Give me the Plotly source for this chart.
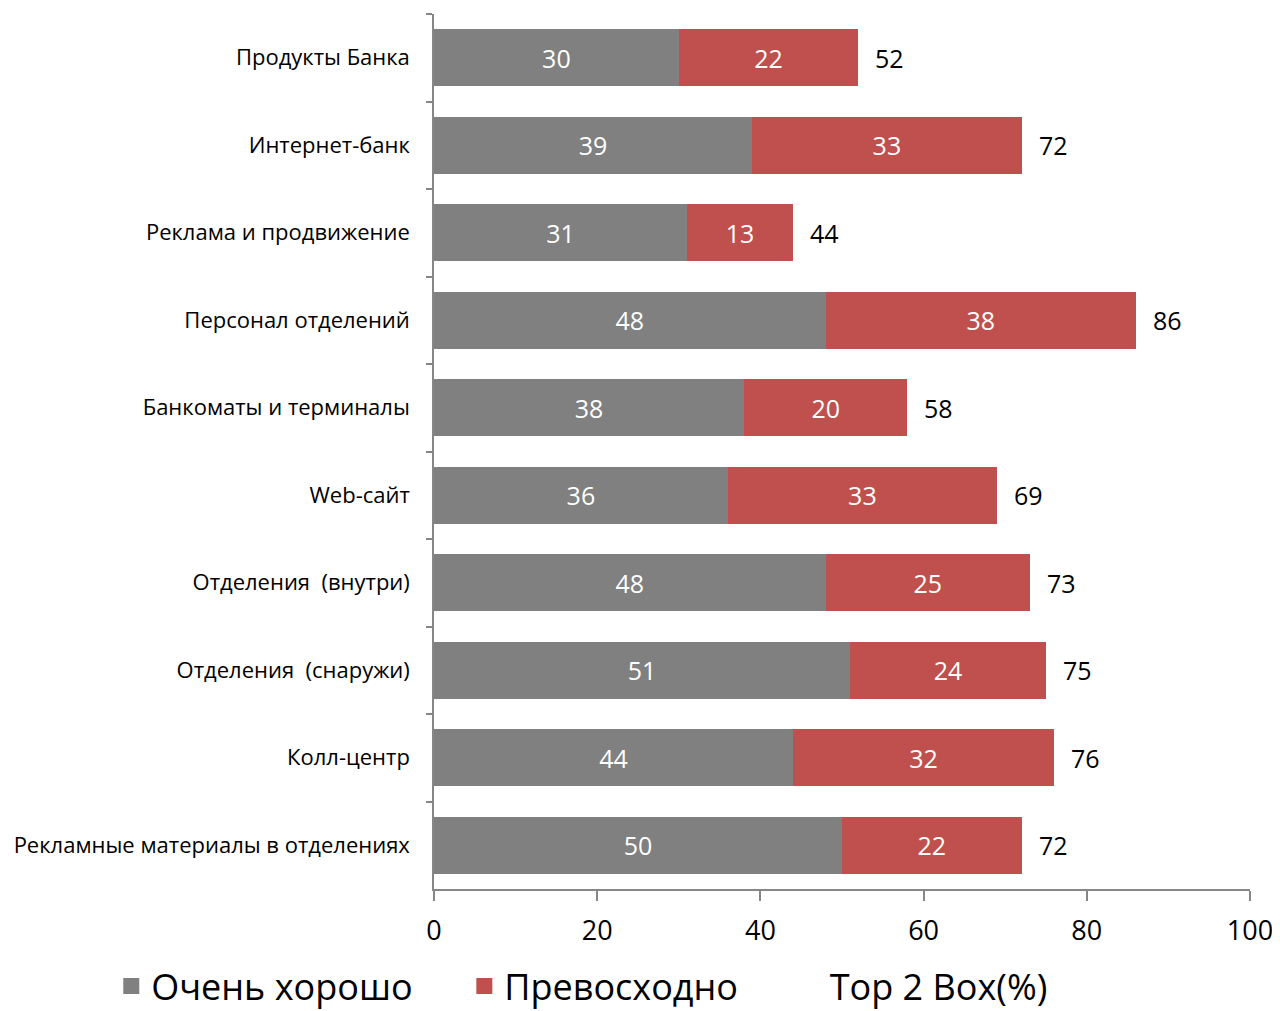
import plotly.graph_objects as go

categories = [
    "Продукты Банка",
    "Интернет-банк",
    "Реклама и продвижение",
    "Персонал отделений",
    "Банкоматы и терминалы",
    "Web-сайт",
    "Отделения  (внутри)",
    "Отделения  (снаружи)",
    "Колл-центр",
    "Рекламные материалы в отделениях",
]
very_good = [30, 39, 31, 48, 38, 36, 48, 51, 44, 50]
excellent = [22, 33, 13, 38, 20, 33, 25, 24, 32, 22]
top2box = [52, 72, 44, 86, 58, 69, 73, 75, 76, 72]
x_ticks = [0, 20, 40, 60, 80, 100]
series_names = ["Очень хорошо", "Превосходно", "Top 2 Box(%)"]

FONT = "Open Sans"
GRAY = "#808080"
RED = "#C0504D"
AXIS = "#868686"
PAD = "\u00a0" * 5

fig = go.Figure()
fig.add_trace(go.Bar(
    y=categories, x=very_good, orientation="h", name=series_names[0],
    showlegend=False,
    marker=dict(color=GRAY, line=dict(width=0)),
    text=[str(v) for v in very_good], textposition="inside",
    insidetextanchor="middle",
    textfont=dict(color="white", size=25, family=FONT),
))
fig.add_trace(go.Bar(
    y=categories, x=excellent, orientation="h", name=series_names[1],
    showlegend=False,
    marker=dict(color=RED, line=dict(width=0)),
    text=[str(v) for v in excellent], textposition="inside",
    insidetextanchor="middle",
    textfont=dict(color="white", size=25, family=FONT),
))
# legend entries
for name, col in zip(series_names, [GRAY, RED, "rgba(0,0,0,0)"]):
    fig.add_trace(go.Scatter(
        x=[None], y=[None], mode="markers", name=name + PAD,
        marker=dict(symbol="square", size=16, color=col, line=dict(width=0)),
        showlegend=True,
    ))

for cat, tot in zip(categories, top2box):
    fig.add_annotation(
        x=tot, y=cat, xref="x", yref="y", text=str(tot),
        showarrow=False, xanchor="left", xshift=15,
        font=dict(size=25, color="black", family=FONT),
    )

fig.update_layout(
    width=1272, height=1003,
    margin=dict(l=426, r=30, t=6, b=122, autoexpand=False),
    barmode="stack", bargap=0.35,
    plot_bgcolor="white", paper_bgcolor="white",
    font=dict(family=FONT, color="black"),
    showlegend=True,
    legend=dict(
        orientation="h", x=-0.3955, xanchor="left", y=-0.111, yanchor="middle",
        font=dict(size=36, family=FONT, color="black"),
        itemwidth=30, traceorder="normal", itemsizing="trace",
        bgcolor="rgba(0,0,0,0)",
    ),
    xaxis=dict(
        range=[0, 100], tickvals=x_ticks, showgrid=False, zeroline=False,
        showline=True, linecolor=AXIS, linewidth=1.5,
        ticks="outside", ticklen=10, tickcolor=AXIS, tickwidth=1.5,
        ticklabelstandoff=7,
        tickfont=dict(size=27, family=FONT, color="black"),
        fixedrange=True, automargin=False,
    ),
    yaxis=dict(
        autorange="reversed", showgrid=False, zeroline=False,
        showline=True, linecolor=AXIS, linewidth=1.5,
        ticks="outside", ticklen=6, tickcolor=AXIS, tickwidth=1.5,
        tickson="boundaries", ticklabelstandoff=18,
        tickfont=dict(size=22, family=FONT, color="black"),
        automargin=False,
    ),
)

fig.write_html("out.html")
